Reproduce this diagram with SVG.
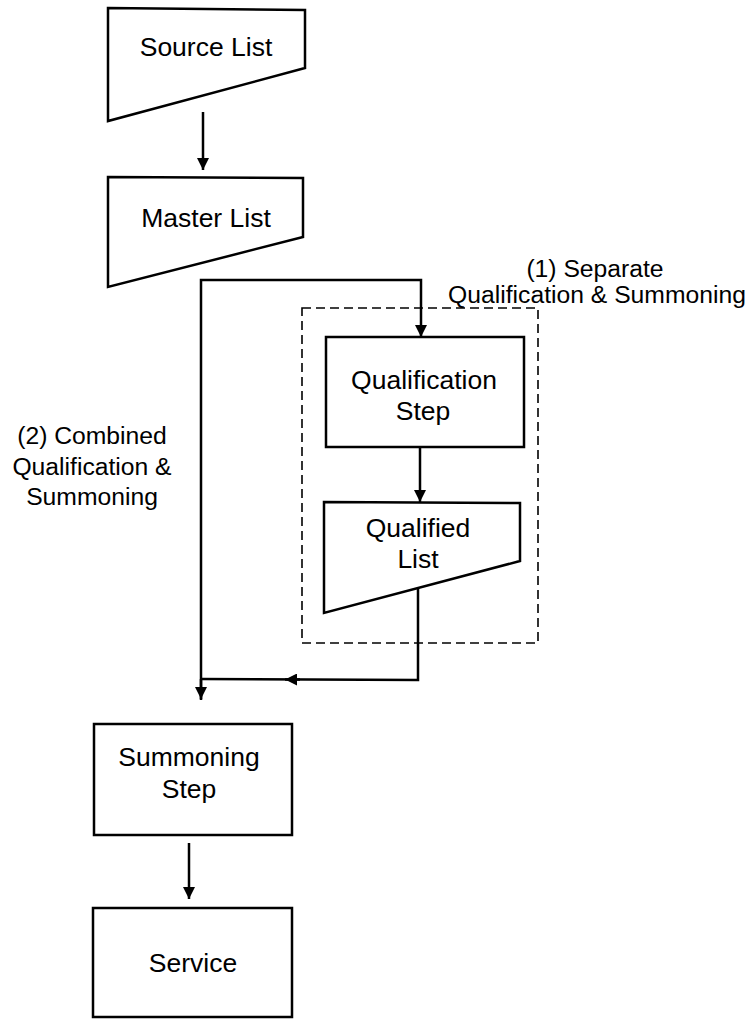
<svg xmlns="http://www.w3.org/2000/svg" width="750" height="1020" viewBox="0 0 750 1020">
<style>
.shape{fill:#fff;stroke:#000;stroke-width:2.5;stroke-linejoin:miter}
.t{font-family:"Liberation Sans",Arial,sans-serif;font-size:26.5px;fill:#000;text-anchor:middle}
.lbl{font-family:"Liberation Sans",Arial,sans-serif;font-size:24.7px;fill:#000;text-anchor:middle}
.ln{fill:none;stroke:#000;stroke-width:2.5}
.dash{fill:none;stroke:#000;stroke-width:1.6;stroke-dasharray:9 5}
</style>
<defs>
<marker id="ah" viewBox="0 0 10 10" refX="10" refY="5" markerWidth="12" markerHeight="12" markerUnits="userSpaceOnUse" orient="auto">
<path d="M0,0 L10,5 L0,10 Z" fill="#000"/>
</marker>
</defs>
<rect width="750" height="1020" fill="#fff"/>
<g id="group-separate">
<rect class="dash" x="302" y="308" width="236" height="335"/>
<text class="lbl" x="595" y="277">(1) Separate</text>
<text class="lbl" x="597" y="303">Qualification &amp; Summoning</text>
</g>
<g id="label-combined">
<text class="lbl" x="92" y="444">(2) Combined</text>
<text class="lbl" x="92" y="475">Qualification &amp;</text>
<text class="lbl" x="92" y="505">Summoning</text>
</g>
<g id="connectors">
<line class="ln" x1="203" y1="112" x2="203" y2="170" marker-end="url(#ah)"/>
<polyline class="ln" points="201,700 201,280 421,280 421,337" marker-end="url(#ah)"/>
<line class="ln" x1="420" y1="447" x2="420" y2="502" marker-end="url(#ah)"/>
<polyline class="ln" points="418,568 418,680 201,679"/>
<line class="ln" x1="300" y1="679.5" x2="285" y2="679.5" marker-end="url(#ah)"/>
<line class="ln" x1="201" y1="679" x2="201" y2="699" marker-end="url(#ah)"/>
<line class="ln" x1="189" y1="843" x2="189" y2="899" marker-end="url(#ah)"/>
</g>
<g id="source-list">
<polygon class="shape" points="108,8 305,10 305,68 108,121"/>
<text class="t" x="206" y="56">Source List</text>
</g>
<g id="master-list">
<polygon class="shape" points="108,177 303,178 303,237 108,287"/>
<text class="t" x="206" y="227">Master List</text>
</g>
<g id="qualification-step">
<rect class="shape" x="326" y="337" width="198" height="110"/>
<text class="t" x="424" y="389">Qualification</text>
<text class="t" x="423" y="420">Step</text>
</g>
<g id="qualified-list">
<polygon class="shape" points="324,502 520,503 520,561 324,613"/>
<text class="t" x="418" y="537">Qualified</text>
<text class="t" x="418" y="568">List</text>
</g>
<g id="summoning-step">
<rect class="shape" x="94" y="724" width="198" height="111"/>
<text class="t" x="189" y="766">Summoning</text>
<text class="t" x="189" y="798">Step</text>
</g>
<g id="service">
<rect class="shape" x="93" y="908" width="199" height="109"/>
<text class="t" x="193" y="972">Service</text>
</g>
</svg>
